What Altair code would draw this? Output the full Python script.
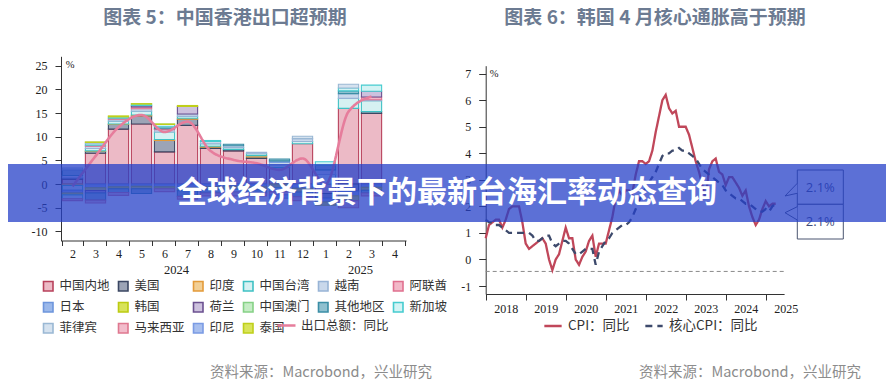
import altair as alt
import pandas as pd

CJK = "Noto Sans CJK SC"
SERIF = "Liberation Serif"
LATIN = "Open Sans"

# ---------------- 图表5 data ----------------
months = ["2024-02", "2024-03", "2024-04", "2024-05", "2024-06", "2024-07", "2024-08",
          "2024-09", "2024-10", "2024-11", "2024-12", "2025-01", "2025-02", "2025-03", "2025-04"]
categories = ["中国内地", "美国", "印度", "中国台湾", "越南", "阿联酋", "日本", "韩国",
              "荷兰", "中国澳门", "其他地区", "新加坡", "菲律宾", "马来西亚", "印尼", "泰国"]
LINE_LABEL = "出口总额：同比"

v_mainland = [1.0, 6.5, 11.6, 12.7, 6.8, 12.4, 7.5, 7.0, 5.4, 3.5, 8.5, -2.0, 16.0, 14.9, 0]
v_us = [0.3, 0.4, 1.0, 1.7, 2.4, 1.3, 0.3, 0.3, 0.3, 0, 0, -1.0, -1.5, 0.4, 0]
v_india = [-0.3, 0.1, 0.1, 0.2, 0.2, 0.2, 0.2, 0, 0.3, 0, 0, 0, 0, 0, 0]
v_taiwan = [-1.0, 0.5, 0.6, 0.8, 1.6, 0.4, 0.5, 0.4, 0.4, 0.6, 0.5, 2.0, 2.1, 2.3, 0]
v_vietnam = [0.5, 0.5, 0.4, 0.5, 0.5, 0.5, 0.5, 0.4, 0.3, 0.5, 0.6, 1.0, 1.0, 0.2, 0]
v_uae = [0, 0.2, 0.2, 0.4, 0.2, 0, 0, 0, 0, 0, 0, 0, 0, 0.6, 0]
v_japan = [-0.6, -0.8, -0.6, -0.5, -0.6, -0.8, -0.6, -0.5, -0.6, 0.3, -0.9, -0.8, -1.0, -0.7, 0]
v_korea = [-0.4, -0.6, -0.4, -0.5, -0.4, -0.6, -0.5, -0.6, -0.6, -0.8, -0.8, -0.7, -1.0, -0.6, 0]
v_netherlands = [0, -0.5, 0, 0.3, 0, 1.6, 0, 0, 0, 0, 0, 0, 0, 1.2, 0]
v_macau = [0, 0, 0, 0, 0, 0, 0, 0, 0, 0, 0, 0, 0, 0, 0]
v_other = [1.2, -1.5, -0.8, -1.0, 0.4, -1.2, -0.8, 0.3, -0.7, 0.4, -1.0, 1.0, 0.6, -0.6, 0]
v_singapore = [-0.8, 0.3, 0.3, 0.3, 0.5, 0, 0.2, -0.6, 0, -0.8, 0, 0.7, 0.6, 1.3, 0]
v_philippines = [0.4, 0.3, 0, 0, 0, 0, 0, 0, 0, 0, 0.5, 0, 0.8, 0, 0]
v_malaysia = [-0.4, -0.6, -0.6, 0, -0.6, -0.6, -0.6, -0.8, -0.6, -0.7, -0.8, 0, -1.5, -0.6, 0]
v_indonesia = [0, 0, 0, 0, 0, 0, 0, 0, 0, -0.7, 0, 0, 0, 0, 0]
v_thailand = [0, 0.1, 0.2, 0.1, 0.1, 0.2, 0, 0, 0, 0, 0, 0, 0, 0, 0]
export_yoy = [-0.5, 5.9, 12.0, 14.6, 11.0, 13.2, 7.0, 5.1, 4.4, 3.0, 5.4, 0.0, 15.3, 18.5, None]

year_labels = ["2024", "2025"]
year_anchor = ["2024-07", "2025-03"]
left_ticks = [-10, -5, 0, 5, 10, 15, 20, 25]

# ---------------- 图表6 data ----------------
cpi = [0.8, 1.3, 1.4, 1.5, 1.5, 1.2, 1.5, 1.9, 2.0, 2.0, 2.0, 1.4,
       0.6, 0.4, 0.5, 0.6, 0.7, 0.8, 0.6, 0.0, -0.4, 0.0, 0.2, 0.7,
       1.2, 0.8, 0.8, 0.0, -0.2, 0.1, 0.3, 0.7, 0.9, 0.1, 0.6, 0.6,
       0.6, 1.1, 1.6, 2.3, 2.6, 2.4, 2.6, 2.6, 2.5, 3.2, 3.7, 3.7,
       3.6, 3.7, 4.1, 4.8, 5.4, 6.0, 6.2, 5.7, 5.5, 5.6, 5.0, 5.0,
       5.0, 4.7, 4.2, 3.7, 3.3, 2.8, 2.3, 3.4, 3.7, 3.8, 3.3, 3.2,
       2.8, 3.1, 3.1, 2.9, 2.7, 2.4, 2.6, 2.0, 1.6, 1.3, 1.5, 1.9,
       2.2, 2.0, 2.1, 2.1]
core = [1.5, 1.4, 1.4, 1.3, 1.3, 1.2, 1.1, 1.0, 1.0, 1.0, 1.0, 1.0,
        1.0, 1.0, 0.9, 0.7, 0.7, 0.8, 0.9, 0.9, 0.6, 0.5, 0.6, 0.7,
        0.7, 0.6, 0.4, 0.2, 0.2, 0.3, 0.4, 0.4, 0.4, -0.2, 0.3, 0.5,
        0.7, 0.8, 1.0, 1.1, 1.2, 1.3, 1.3, 1.4, 1.6, 1.9, 2.2, 2.5,
        2.7, 2.9, 3.1, 3.3, 3.6, 3.9, 4.0, 4.0, 4.1, 4.1, 4.2, 4.1,
        4.1, 4.0, 3.9, 3.8, 3.6, 3.4, 3.3, 3.2, 3.1, 3.0, 2.9, 2.8,
        2.6, 2.5, 2.4, 2.3, 2.3, 2.2, 2.1, 2.1, 2.0, 1.9, 1.8, 1.8,
        1.9, 1.8, 2.0, 2.1]
start_year = 2018
series_names = ["CPI：同比", "核心CPI：同比"]
ref_level = -0.45
right_years = [2018, 2019, 2020, 2021, 2022, 2023, 2024, 2025]
right_ticks = [-1, 0, 1, 2, 3, 4, 5, 6, 7]

# ---------------- styles ----------------
strong = ["#b8425c", "#3b4763", "#e39b3a", "#3fc1c4", "#98b4d6", "#e0708f", "#6d95dc", "#bccb12",
          "#6b5090", "#86d186", "#3b8ea6", "#46cccf", "#9ab8d4", "#df7890", "#7a9be4", "#bfcf1a"]
pale = ["#ecbac6", "#9ca4b6", "#f2cf95", "#d6f1f2", "#c9d8eb", "#f2b8c8", "#9bb8ea", "#d8e35a",
        "#cdc1de", "#c5ecc5", "#8fc0cf", "#d3f3f4", "#d5e2ef", "#f2bccb", "#a8bfee", "#d9e45a"]
export_color = "#e67d9c"
line_colors = ["#c0475a", "#3d4a6c"]

W, H = 878, 370

# ---------------- build tables ----------------
all_series = [v_mainland, v_us, v_india, v_taiwan, v_vietnam, v_uae, v_japan, v_korea,
              v_netherlands, v_macau, v_other, v_singapore, v_philippines, v_malaysia,
              v_indonesia, v_thailand]
rows = []
for ci, (cat, vals) in enumerate(zip(categories, all_series)):
    for m, v in zip(months, vals):
        if v != 0:
            rows.append({"m": m, "cat": cat, "v": v, "ci": ci})
df_bars = pd.DataFrame(rows)
df_exp = pd.DataFrame({"m": months, "yoy": export_yoy, "lbl": LINE_LABEL}).dropna()
df_years = pd.DataFrame({"m": year_anchor, "yr": year_labels})

t = [start_year + i / 12 for i in range(len(cpi))]
df_cpi = pd.concat([
    pd.DataFrame({"t": t, "v": cpi, "s": series_names[0]}),
    pd.DataFrame({"t": t, "v": core, "s": series_names[1]}),
])
df_ref = pd.DataFrame({"x0": [2018], "x1": [2025.46], "y": [ref_level]})

# ---------------- left chart ----------------
xs_left = alt.Scale(domain=months, range=[53, 398], paddingInner=0.12, paddingOuter=0.06)
ys_left = alt.Scale(domain=[-12, 27], range=[232.8, 48.3], nice=False, zero=False)
common_axis = dict(grid=False, title=None, domainColor="#333", tickColor="#333",
                   labelColor="#222", labelFont=SERIF, labelFontSize=12, labelOverlap=False)
ax_left_x = alt.Axis(orient="bottom", offset=-137.5, labelAngle=0, tickBand="extent", tickSize=5,
                     labelPadding=3,
                     labelExpr="isString(datum.value) && length(datum.value) > 5 ? '' + parseInt(substring(datum.value, 5)) : ''",
                     **common_axis)
ax_left_y = alt.Axis(orient="left", offset=-53, values=left_ticks, tickSize=6, labelPadding=8,
                     labelExpr="datum.value < 0 ? '-' + abs(datum.value) : '' + datum.value",
                     **common_axis)

left_legend = alt.Legend(
    orient="none", legendX=34, legendY=272, direction="horizontal", columns=6, gridAlign="none",
    title=None, symbolType="square", symbolSize=90, symbolStrokeWidth=1.6,
    labelFont=CJK, labelFontSize=12.5, labelColor="#333", labelOffset=5,
    columnPadding=5, rowPadding=4, padding=0,
)
line_legend = alt.Legend(
    orient="none", legendX=268, legendY=307, direction="horizontal", title=None,
    symbolType="stroke", symbolSize=324, symbolStrokeWidth=2.6, symbolStrokeColor=export_color,
    labelFont=CJK, labelFontSize=12.5, labelColor="#333", labelOffset=4, padding=0,
)

bars = alt.Chart(df_bars).mark_bar(strokeWidth=1.1).encode(
    x=alt.X("m:N", scale=xs_left, axis=ax_left_x),
    y=alt.Y("v:Q", stack="zero", scale=ys_left, axis=ax_left_y),
    fill=alt.Fill("cat:N", scale=alt.Scale(domain=categories, range=pale), legend=left_legend),
    stroke=alt.Stroke("cat:N", scale=alt.Scale(domain=categories, range=strong), legend=left_legend),
    order=alt.Order("ci:Q"),
)
exp_line = alt.Chart(df_exp).mark_line(strokeWidth=2.6, interpolate="monotone", color=export_color).encode(
    x=alt.X("m:N", scale=xs_left, axis=ax_left_x),
    y=alt.Y("yoy:Q", scale=ys_left, axis=ax_left_y),
    strokeDash=alt.StrokeDash("lbl:N", scale=alt.Scale(domain=[LINE_LABEL], range=[[1, 0]]),
                              legend=line_legend),
)
years_txt = alt.Chart(df_years).mark_text(font=SERIF, fontSize=12.5, color="#222", dx=-1).encode(
    x=alt.X("m:N", scale=xs_left, axis=ax_left_x, bandPosition=0),
    y=alt.value(262),
    text="yr:N",
)
left = alt.layer(bars, exp_line, years_txt)

# ---------------- right chart ----------------
xs_right = alt.Scale(domain=[2018, 2025.46], range=[477.7, 776.1], nice=False, zero=False)
ys_right = alt.Scale(domain=[-1.3, 7.3], range=[286, 57.7], nice=False, zero=False)
ax_right_x = alt.Axis(orient="bottom", offset=-84, values=right_years, format="d", labelOffset=20,
                      labelFlush=False, tickSize=6, labelPadding=3, **common_axis)
ax_right_y = alt.Axis(orient="left", offset=-477.7, values=right_ticks, tickSize=7, labelPadding=8,
                      labelExpr="datum.value < 0 ? '-' + abs(datum.value) : '' + datum.value",
                      **common_axis)
right_legend = alt.Legend(
    orient="none", legendX=535, legendY=308, direction="horizontal", title=None,
    symbolType="stroke", symbolSize=300, symbolStrokeWidth=2.6,
    labelFont=CJK, labelFontSize=13.5, labelColor="#333", labelOffset=5, columnPadding=10, padding=0,
)
ref_rule = alt.Chart(df_ref).mark_rule(color="#8a8a8a", strokeWidth=1, strokeDash=[4, 3]).encode(
    x=alt.X("x0:Q", scale=xs_right, axis=ax_right_x),
    x2="x1:Q",
    y=alt.Y("y:Q", scale=ys_right, axis=ax_right_y),
)
cpi_lines = alt.Chart(df_cpi).mark_line(strokeWidth=2.3).encode(
    x=alt.X("t:Q", scale=xs_right, axis=ax_right_x),
    y=alt.Y("v:Q", scale=ys_right, axis=ax_right_y),
    stroke=alt.Stroke("s:N", scale=alt.Scale(domain=series_names, range=line_colors), legend=right_legend),
    strokeDash=alt.StrokeDash("s:N", scale=alt.Scale(domain=series_names, range=[[1, 0], [7, 5]]),
                              legend=right_legend),
)
right = alt.layer(ref_rule, cpi_lines)


# ---------------- decorations ----------------
def label(text, x, y, size, color, font=CJK, weight="normal", align="center"):
    return alt.Chart(pd.DataFrame({"t": [text]})).mark_text(
        font=font, fontSize=size, color=color, fontWeight=weight, align=align, baseline="middle"
    ).encode(text="t:N", x=alt.value(x), y=alt.value(y))


def box(x0, x1, y0, y1):
    return alt.Chart(pd.DataFrame({"k": [0]})).mark_rect(
        fill="white", stroke="#4a5570", strokeWidth=1
    ).encode(x=alt.value(x0), x2=alt.value(x1), y=alt.value(y0), y2=alt.value(y1))


def pointer(cx, cy, path, size):
    return alt.Chart(pd.DataFrame({"k": [0]})).mark_point(
        shape=path, size=size, filled=True, fill="white", stroke="#4a5570", strokeWidth=1, opacity=1
    ).encode(x=alt.value(cx), y=alt.value(cy))


last_cpi = f"{cpi[-1]:.1f}%"
last_core = f"{core[-1]:.1f}%"

title_color = "#6c7b92"
decor = [
    label("图表 5：中国香港出口超预期", 217, 10, 19, title_color, weight="bold"),
    label("图表 6：韩国 4 月核心通胀高于预期", 647, 10, 19, title_color, weight="bold"),
    label("%", 62, 57, 10.5, "#222", font=SERIF),
    label("%", 486, 66, 10.5, "#222", font=SERIF),
    label("资料来源：Macrobond，兴业研究", 313, 365, 14.5, "#8c8c8c"),
    label("资料来源：Macrobond，兴业研究", 742, 365, 14.5, "#8c8c8c"),
    box(789.3, 835.3, 162, 196.3),
    box(789.3, 835.3, 196.3, 231),
    pointer(783.15, 181.65, "M 1 -1.03 L -1 1.03 L 1 0.59", 151),
    pointer(783.15, 205.35, "M 1 -1.08 L -1 -0.106 L 1 1.08", 151),
    label(last_cpi, 812.3, 179.5, 13, "#3f4b7a", font=LATIN),
    label(last_core, 812.3, 214, 13, "#3f4b7a", font=LATIN),
]

banner = alt.Chart(pd.DataFrame({"k": [0]})).mark_rect(fill="#2640c8", opacity=0.75).encode(
    x=alt.value(0), x2=alt.value(W), y=alt.value(156), y2=alt.value(214)
)
banner_text = label("全球经济背景下的最新台海汇率动态查询", W / 2, 185, 30, "white", weight="bold")

chart = alt.layer(left, right, *decor, banner, banner_text).resolve_scale(
    x="independent", y="independent", stroke="independent", strokeDash="independent",
    fill="independent"
).resolve_legend(stroke="independent", strokeDash="independent", fill="independent").properties(
    width=W, height=H, padding=0, background="white"
).configure_view(stroke=None).configure_legend(gridAlign="none")

chart.save("out.html", embed_options={"renderer": "svg", "actions": False})
